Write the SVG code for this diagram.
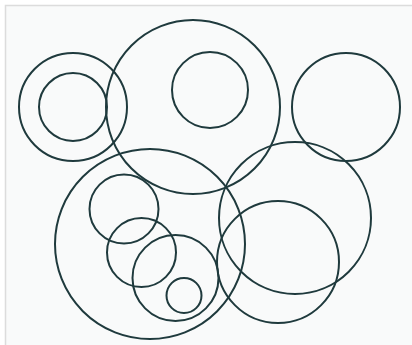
<svg xmlns="http://www.w3.org/2000/svg" width="412" height="345" viewBox="0 0 412 345">
<style>
.c{fill:none;stroke:#1f3a3d;stroke-width:2}
</style>
<rect x="5.5" y="5.5" width="420" height="360" fill="#f9fafa" stroke="#dcdcdc" stroke-width="1.5"/>
<g id="circles">
<g id="c1"><circle class="c" cx="73" cy="107" r="54"/></g>
<g id="c2"><circle class="c" cx="73" cy="107" r="34"/></g>
<g id="c3"><circle class="c" cx="193" cy="107" r="87"/></g>
<g id="c4"><circle class="c" cx="210" cy="90" r="38"/></g>
<g id="c5"><circle class="c" cx="346" cy="107" r="54"/></g>
<g id="c6"><circle class="c" cx="150" cy="244" r="95"/></g>
<g id="c7"><circle class="c" cx="295" cy="218" r="76"/></g>
<g id="c8"><circle class="c" cx="278" cy="262" r="61"/></g>
<g id="c9"><circle class="c" cx="124" cy="209" r="34.5"/></g>
<g id="c10"><circle class="c" cx="141.5" cy="252.5" r="34.5"/></g>
<g id="c11"><circle class="c" cx="175.5" cy="278" r="43"/></g>
<g id="c12"><circle class="c" cx="184" cy="295.5" r="17.5"/></g>
</g>
</svg>
